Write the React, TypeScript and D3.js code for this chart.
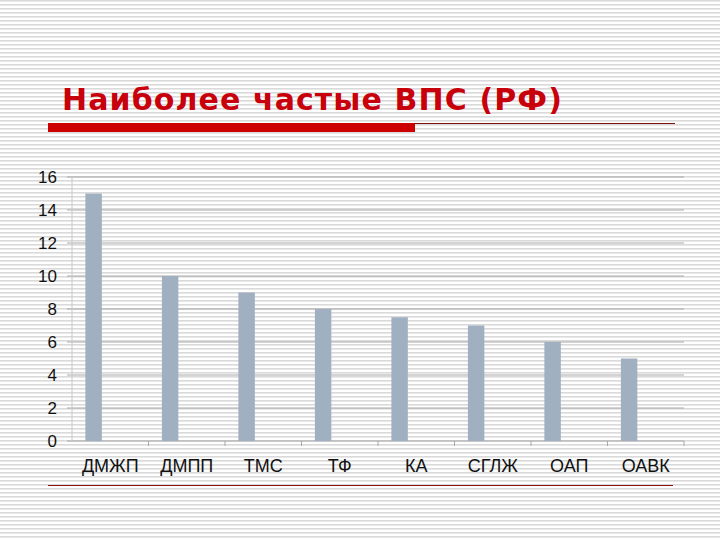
import React from "react";
import * as d3 from "d3";

const categories = ["ДМЖП", "ДМПП", "ТМС", "ТФ", "КА", "СГЛЖ", "ОАП", "ОАВК"];
const values = [15, 10, 9, 8, 7.5, 7, 6, 5];
const yTicks = [0, 2, 4, 6, 8, 10, 12, 14, 16];
const title = "Наиболее частые ВПС (РФ)";

const W = 720;
const H = 540;

export default function App() {
  const plot = { left: 72, right: 684, top: 177, bottom: 441 };

  const x = d3
    .scaleBand<string>()
    .domain(categories)
    .range([plot.left, plot.right])
    .paddingInner(0)
    .paddingOuter(0);

  const y = d3.scaleLinear().domain([0, 16]).range([plot.bottom, plot.top]);

  // excel style: bar sits in the first slot of a 3-slot group
  const bw = x.bandwidth();
  const barW = bw * 0.215;
  const barOff = bw * 0.175;

  const font = "'Liberation Sans', Arial, sans-serif";

  return (
    <svg
      width={W}
      height={H}
      style={{ position: "absolute", left: 0, top: 0, display: "block" }}
    >
      <defs>
        <pattern id="stripes" width={8} height={4} patternUnits="userSpaceOnUse">
          <rect width={8} height={4} fill="#ffffff" />
          <rect y={0} width={8} height={1.6} fill="#dadada" />
        </pattern>
      </defs>
      <rect width={W} height={H} fill="url(#stripes)" />

      {/* title */}
      <text
        x={62}
        y={110}
        fill="#c8000c"
        fontFamily="'DejaVu Sans', Verdana, sans-serif"
        fontWeight="bold"
        fontSize={30}
        letterSpacing={1.1}
      >
        {title}
      </text>
      <rect x={48} y={123} width={367} height={9} fill="#cc0000" />
      <line x1={415} x2={675} y1={123.5} y2={123.5} stroke="#7a1010" strokeWidth={1} />

      {/* gridlines */}
      {yTicks.map((t) => (
        <g key={t}>
          {t > 0 && (
            <line
              x1={plot.left}
              x2={plot.right}
              y1={y(t)}
              y2={y(t)}
              stroke="#a8a8a8"
              strokeWidth={1}
            />
          )}
          <line x1={plot.left - 5} x2={plot.left} y1={y(t)} y2={y(t)} stroke="#a8a8a8" />
          <text
            x={plot.left - 15}
            y={y(t)}
            dy="0.35em"
            textAnchor="end"
            fontFamily={font}
            fontSize={17}
            fill="#111"
          >
            {t}
          </text>
        </g>
      ))}

      {/* axes */}
      <line x1={plot.left} x2={plot.left} y1={plot.top} y2={plot.bottom} stroke="#c8c8c8" />
      <line x1={plot.left} x2={plot.right} y1={plot.bottom} y2={plot.bottom} stroke="#a8a8a8" />
      {categories.map((c) => (
        <line
          key={"t" + c}
          x1={(x(c) ?? 0) + bw}
          x2={(x(c) ?? 0) + bw}
          y1={plot.bottom}
          y2={plot.bottom + 5}
          stroke="#a8a8a8"
        />
      ))}

      {/* bars */}
      {categories.map((c, i) => (
        <rect
          key={c}
          x={(x(c) ?? 0) + barOff}
          y={y(values[i])}
          width={barW}
          height={plot.bottom - y(values[i])}
          fill="#a0b0c1"
        />
      ))}

      {/* category labels */}
      {categories.map((c) => (
        <text
          key={"l" + c}
          x={(x(c) ?? 0) + bw / 2}
          y={472}
          textAnchor="middle"
          fontFamily={font}
          fontSize={18}
          fill="#111"
        >
          {c}
        </text>
      ))}

      <line x1={48} x2={673} y1={485.5} y2={485.5} stroke="#8b1010" strokeWidth={1} />
    </svg>
  );
}
